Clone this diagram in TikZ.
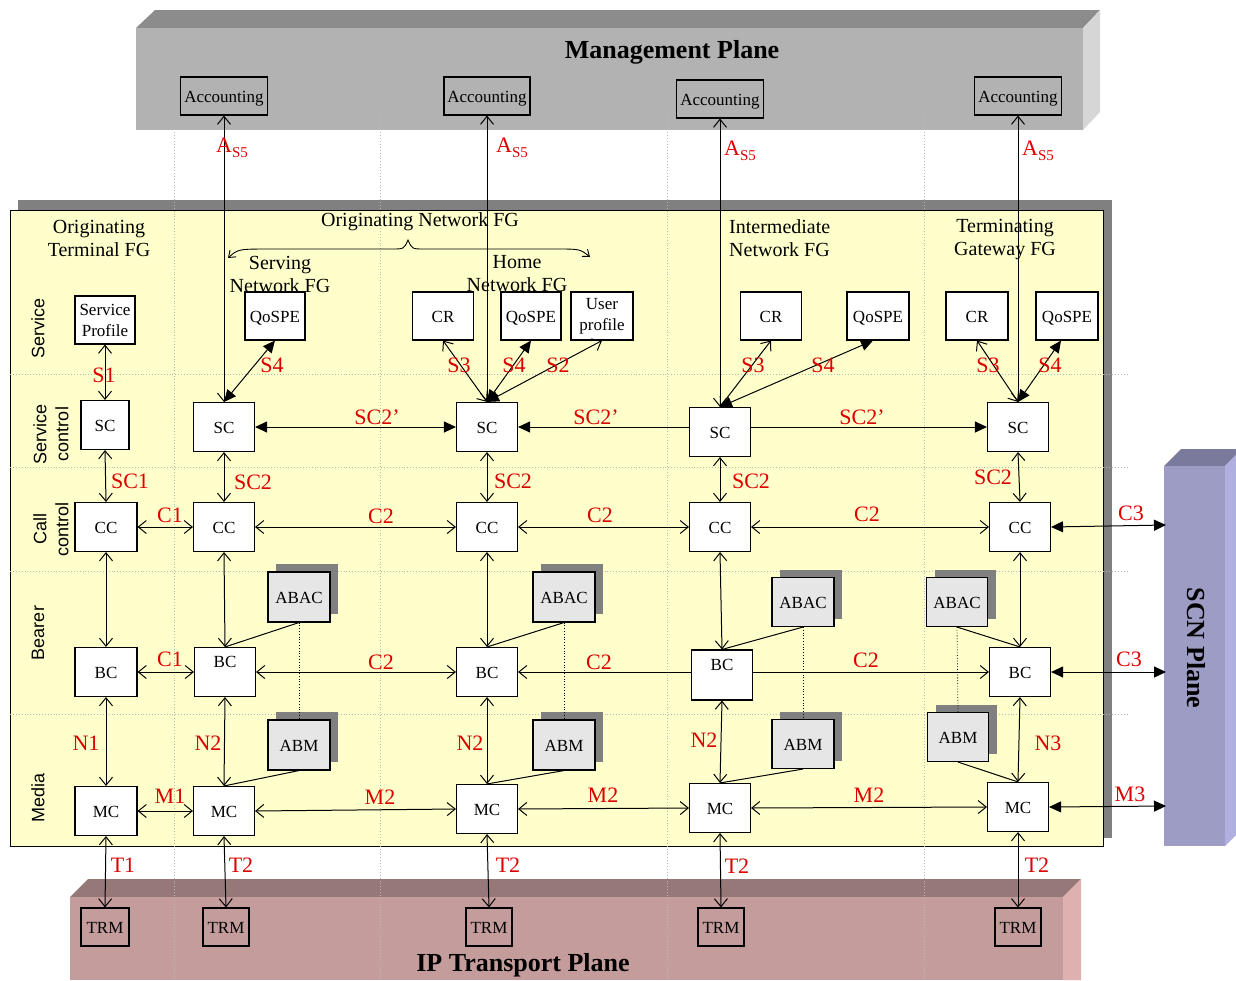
\documentclass[tikz,border=0pt]{standalone}
\usepackage{fontspec}
\setmainfont{Liberation Serif}
\newfontfamily\arialf{Liberation Sans}
\usetikzlibrary{arrows.meta,shadows}
\definecolor{lred}{RGB}{220,0,0}
\definecolor{mgtop}{HTML}{8C8C8C}
\definecolor{mgfront}{HTML}{B2B2B2}
\definecolor{mgside}{HTML}{D6D6D6}
\definecolor{iptop}{HTML}{967878}
\definecolor{ipfront}{HTML}{C49C9C}
\definecolor{ipside}{HTML}{DEB0B0}
\definecolor{scntop}{HTML}{7A7A9C}
\definecolor{scnfront}{HTML}{9C9CC4}
\definecolor{scnside}{HTML}{B0B0E0}
\definecolor{panel}{HTML}{FFFFCC}
\definecolor{shadowgray}{HTML}{808080}
\definecolor{boxgray}{HTML}{E6E6E6}
\definecolor{gridgray}{HTML}{B8B8B8}
\tikzset{
  ob/.tip={Straight Barb[length=8pt,width=13pt]},
  fb/.tip={Triangle[length=12pt,width=11pt]},
}
\newcommand\asfive{A\raisebox{-5pt}{\fontsize{15}{15}\selectfont S5}}
\begin{document}
\begin{tikzpicture}[x=1pt,y=-1pt,
  mbox/.style={draw, fill=white, line width=1.1pt, inner sep=0pt,
    font=\fontsize{17}{21}\selectfont, align=center},
  box/.style={mbox, text height=12pt, text depth=0pt},
  gbox/.style={box, fill=boxgray,
    general shadow={fill=shadowgray, shadow xshift=8pt, shadow yshift=8pt}},
  tbox/.style={draw, line width=1.1pt, inner sep=0pt,
    font=\fontsize{17}{20}\selectfont, text height=12pt, text depth=0pt},
  conn/.style={line width=1pt},
  grid/.style={draw=gridgray, dotted, line width=0.9pt},
  lab/.style={text=lred, font=\fontsize{22}{22}\selectfont, inner sep=0pt},
  head/.style={font=\fontsize{20}{23}\selectfont, align=center, inner sep=0pt},
  rowlab/.style={font=\arialf\fontsize{18}{22}\selectfont, rotate=90, align=center, inner sep=0pt},
  plane/.style={font=\bfseries\fontsize{26}{28}\selectfont, inner sep=0pt, text height=18pt, text depth=0pt},
]
\useasboundingbox (0,0) rectangle (1236,980);

% ---------- planes ----------
\fill[mgtop] (136,28) -- (155,10) -- (1100,10) -- (1083,28) -- cycle;
\fill[mgfront] (136,28) rectangle (1083,130);
\fill[mgside] (1083,28) -- (1100,10) -- (1100,112) -- (1083,130) -- cycle;
\node[plane] (mgmt) at (672,49) {Management Plane};

\fill[iptop] (70,897) -- (88,879) -- (1081,879) -- (1063,897) -- cycle;
\fill[ipfront] (70,897) rectangle (1063,980);
\fill[ipside] (1063,897) -- (1081,879) -- (1081,980) -- (1063,980) -- cycle;
\node[plane] (ipt) at (523,962) {IP Transport Plane};

\fill[scntop] (1164,466) -- (1181,449) -- (1242,449) -- (1225,466) -- cycle;
\fill[scnfront] (1164,466) rectangle (1225,846);
\fill[scnside] (1225,466) -- (1242,449) -- (1242,829) -- (1225,846) -- cycle;
\node[plane, rotate=-90] (scn) at (1196,648) {SCN Plane};

% ---------- main panel ----------
\fill[shadowgray] (18,200) rectangle (1112,838);
\filldraw[fill=panel, draw=black, line width=1pt] (10,210) rectangle (1103,846);

% ---------- dotted grid ----------
\foreach \gx in {174,380,667,924} \draw[grid] (\gx,112) -- (\gx,980);
\foreach \gy in {374,467,571,714} \draw[grid] (10,\gy) -- (1128,\gy);

% ---------- headers ----------
\node[head] (h1) at (99,238) {Originating\\Terminal FG};
\node[head] (h2) at (420,222) {Originating Network FG};
\node[head] (h3) at (280,274) {Serving\\Network FG};
\node[head] (h4) at (517,274) {Home\\Network FG};
\node[head, align=left, anchor=west] (h5) at (729,238) {Intermediate\\Network FG};
\node[head] (h6) at (1005,240) {Terminating\\Gateway FG};
\coordinate (braceL) at (228,258);
\coordinate (braceR) at (590,257);
\draw[line width=0.9pt, {Straight Barb[length=6pt,width=9pt]}-{Straight Barb[length=6pt,width=9pt]}]
  (braceL) .. controls (238,249) .. (272,249) -- (392,249)
  .. controls (404,249) .. (408,240) .. controls (412,249) .. (424,249)
  -- (556,249) .. controls (580,249) .. (braceR);

\node[rowlab] (r1) at (38,328) {Service};
\node[rowlab] (r2) at (51,434) {Service\\control};
\node[rowlab] (r3) at (51,529) {Call\\control};
\node[rowlab] (r4) at (38,633) {Bearer};
\node[rowlab] (r5) at (38,798) {Media};

% ---------- accounting ----------
\node[tbox, minimum width=87pt, minimum height=38pt] (acc1) at (224,96) {Accounting};
\node[tbox, minimum width=86pt, minimum height=38pt] (acc2) at (487,96) {Accounting};
\node[tbox, minimum width=87pt, minimum height=38pt] (acc3) at (720,99) {Accounting};
\node[tbox, minimum width=87pt, minimum height=38pt] (acc4) at (1018,96) {Accounting};

% ---------- service row ----------
\node[mbox, minimum width=60pt, minimum height=48pt] (sp) at (105,320) {Service\\Profile};
\node[box, minimum width=60pt, minimum height=48pt] (qos1) at (275,316) {QoSPE};
\node[box, minimum width=61pt, minimum height=48pt] (cr2) at (443,316) {CR};
\node[box, minimum width=60pt, minimum height=48pt] (qos2) at (531,316) {QoSPE};
\node[mbox, minimum width=62pt, minimum height=48pt] (up) at (602,316) {User\\profile};
\node[box, minimum width=61pt, minimum height=48pt] (cr3) at (771,316) {CR};
\node[box, minimum width=62pt, minimum height=48pt] (qos3) at (878,316) {QoSPE};
\node[box, minimum width=62pt, minimum height=48pt] (cr4) at (977,316) {CR};
\node[box, minimum width=62pt, minimum height=48pt] (qos4) at (1067,316) {QoSPE};

% ---------- service control ----------
\node[box, minimum width=48pt, minimum height=49pt] (sc1) at (105,425) {SC};
\node[box, minimum width=61pt, minimum height=49pt] (sc2) at (224,427) {SC};
\node[box, minimum width=61pt, minimum height=49pt] (sc3) at (487,427) {SC};
\node[box, minimum width=61pt, minimum height=49pt] (sc4) at (720,432) {SC};
\node[box, minimum width=61pt, minimum height=49pt] (sc5) at (1018,427) {SC};

% ---------- call control ----------
\node[box, minimum width=62pt, minimum height=49pt] (cc1) at (106,527) {CC};
\node[box, minimum width=61pt, minimum height=49pt] (cc2) at (224,527) {CC};
\node[box, minimum width=61pt, minimum height=49pt] (cc3) at (487,527) {CC};
\node[box, minimum width=61pt, minimum height=49pt] (cc4) at (720,527) {CC};
\node[box, minimum width=61pt, minimum height=49pt] (cc5) at (1020,527) {CC};

% ---------- bearer ----------
\node[box, minimum width=62pt, minimum height=49pt] (bc1) at (106,672) {BC};
\node[box, minimum width=61pt, minimum height=49pt, text height=12pt, text depth=22pt] (bc2) at (225,672) {BC};
\node[box, minimum width=61pt, minimum height=49pt] (bc3) at (487,672) {BC};
\node[box, minimum width=61pt, minimum height=50pt, text height=12pt, text depth=22pt] (bc4) at (722,675) {BC};
\node[box, minimum width=61pt, minimum height=49pt] (bc5) at (1020,672) {BC};

\node[gbox, minimum width=62pt, minimum height=50pt] (abac1) at (299,597) {ABAC};
\node[gbox, minimum width=62pt, minimum height=50pt] (abac2) at (564,597) {ABAC};
\node[gbox, minimum width=62pt, minimum height=49pt] (abac3) at (803,602) {ABAC};
\node[gbox, minimum width=61pt, minimum height=49pt] (abac4) at (957,602) {ABAC};

% ---------- media ----------
\node[gbox, minimum width=62pt, minimum height=50pt] (abm1) at (299,745) {ABM};
\node[gbox, minimum width=62pt, minimum height=50pt] (abm2) at (564,745) {ABM};
\node[gbox, minimum width=62pt, minimum height=49pt] (abm3) at (803,744) {ABM};
\node[gbox, minimum width=61pt, minimum height=49pt] (abm4) at (958,737) {ABM};

\node[box, minimum width=62pt, minimum height=49pt] (mc1) at (106,811) {MC};
\node[box, minimum width=61pt, minimum height=49pt] (mc2) at (224,811) {MC};
\node[box, minimum width=61pt, minimum height=49pt] (mc3) at (487,809) {MC};
\node[box, minimum width=61pt, minimum height=49pt] (mc4) at (720,808) {MC};
\node[box, minimum width=61pt, minimum height=49pt] (mc5) at (1018,807) {MC};

% ---------- transport ----------
\node[tbox, minimum width=48pt, minimum height=38pt] (trm1) at (105,927) {TRM};
\node[tbox, minimum width=46pt, minimum height=38pt] (trm2) at (226,927) {TRM};
\node[tbox, minimum width=46pt, minimum height=38pt] (trm3) at (489,927) {TRM};
\node[tbox, minimum width=46pt, minimum height=38pt] (trm4) at (721,927) {TRM};
\node[tbox, minimum width=46pt, minimum height=38pt] (trm5) at (1018,927) {TRM};

\coordinate (scnC) at (1166,525);
\coordinate (scnB) at (1166,672);
\coordinate (scnM) at (1166,806);

% ---------- connectors ----------
\draw[conn, ob-ob] (acc1.south) -- (sc2.north);
\draw[conn, ob-ob] (acc2.south) -- (sc3.north);
\draw[conn, ob-ob] (acc3.south) -- (sc4.north);
\draw[conn, ob-ob] (acc4.south) -- (sc5.north);

\draw[conn, ob-ob] (sp.south) -- (sc1.north);
\draw[conn, fb-fb] (qos1.south) -- (sc2.north);
\draw[conn, ob-ob] (cr2.south) -- (sc3.north);
\draw[conn, fb-fb] (qos2.south) -- (sc3.north);
\draw[conn, ob-fb] (up.south) -- (sc3.north);
\draw[conn, ob-ob] (cr3.south) -- (sc4.north);
\draw[conn, fb-fb] ([xshift=-5pt]qos3.south) -- (sc4.north);
\draw[conn, ob-ob] (cr4.south) -- (sc5.north);
\draw[conn, fb-fb] ([xshift=-6pt]qos4.south) -- (sc5.north);

\draw[conn, fb-fb] (sc2.east) -- (sc3.west);
\draw[conn, -fb] (sc3.east -| sc4.west) -- (sc3.east);
\draw[conn, -fb] (sc4.east |- sc5.west) -- (sc5.west);

\draw[conn, ob-ob] (sc1.south) -- (cc1.north);
\draw[conn, ob-ob] (sc2.south) -- (cc2.north);
\draw[conn, ob-ob] (sc3.south) -- (cc3.north);
\draw[conn, ob-ob] (sc4.south) -- (cc4.north);
\draw[conn, ob-ob] (sc5.south) -- (cc5.north);

\draw[conn, ob-ob] (cc1.east) -- (cc2.west);
\draw[conn, ob-ob] (cc2.east) -- (cc3.west);
\draw[conn, ob-ob] (cc3.east) -- (cc4.west);
\draw[conn, ob-ob] (cc4.east) -- (cc5.west);
\draw[conn, fb-fb] (cc5.east) -- (scnC);

\draw[conn, ob-ob] (cc1.south) -- (bc1.north);
\draw[conn, ob-ob] (cc2.south) -- (bc2.north);
\draw[conn, ob-ob] (cc3.south) -- (bc3.north);
\draw[conn, ob-ob] (cc4.south) -- (bc4.north);
\draw[conn, ob-ob] (cc5.south) -- (bc5.north);

\draw[conn] (abac1.south) -- (bc2.north);
\draw[conn] (abac2.south) -- (bc3.north);
\draw[conn] (abac3.south) -- (bc4.north);
\draw[conn] (abac4.south) -- (bc5.north);
\draw[line width=0.8pt, dotted] (abac1.south) -- (abm1.north);
\draw[line width=0.8pt, dotted] (abac2.south) -- (abm2.north);
\draw[line width=0.8pt, dotted] (abac3.south) -- (abm3.north);
\draw[line width=0.8pt, dotted] (abac4.south) -- (abm4.north);

\draw[conn, ob-ob] (bc1.east) -- (bc2.west);
\draw[conn, ob-ob] (bc2.east) -- (bc3.west);
\draw[conn, -ob] (bc3.east -| bc4.west) -- (bc3.east);
\draw[conn, -ob] (bc4.east |- bc5.west) -- (bc5.west);
\draw[conn, fb-fb] (bc5.east) -- (scnB);

\draw[conn, ob-ob] (bc1.south) -- (mc1.north);
\draw[conn, ob-ob] (bc2.south) -- (mc2.north);
\draw[conn, ob-ob] (bc3.south) -- (mc3.north);
\draw[conn, ob-ob] (bc4.south) -- (mc4.north);
\draw[conn, ob-ob] (bc5.south) -- (mc5.north);

\draw[conn] (abm1.south) -- (mc2.north);
\draw[conn] (abm2.south) -- (mc3.north);
\draw[conn] (abm3.south) -- (mc4.north);
\draw[conn] (abm4.south) -- (mc5.north);

\draw[conn, ob-ob] (mc1.east) -- (mc2.west);
\draw[conn, ob-ob] (mc2.east) -- (mc3.west);
\draw[conn, ob-ob] (mc3.east) -- (mc4.west);
\draw[conn, ob-ob] (mc4.east) -- (mc5.west);
\draw[conn, fb-fb] (mc5.east) -- (scnM);

\draw[conn, ob-ob] (mc1.south) -- (trm1.north);
\draw[conn, ob-ob] (mc2.south) -- (trm2.north);
\draw[conn, ob-ob] (mc3.south) -- (trm3.north);
\draw[conn, ob-ob] (mc4.south) -- (trm4.north);
\draw[conn, ob-ob] (mc5.south) -- (trm5.north);

% ---------- labels ----------
\node[lab, anchor=west] (la1) at (216,148) {\asfive};
\node[lab, anchor=west] (la2) at (496,148) {\asfive};
\node[lab, anchor=west] (la3) at (724,151) {\asfive};
\node[lab, anchor=west] (la4) at (1022,151) {\asfive};

\node[lab] (ls1) at (104,375) {S1};
\node[lab] (ls4a) at (272,365) {S4};
\node[lab] (ls3a) at (459,365) {S3};
\node[lab] (ls4b) at (514,365) {S4};
\node[lab] (ls2) at (558,365) {S2};
\node[lab] (ls3b) at (753,365) {S3};
\node[lab] (ls4c) at (823,365) {S4};
\node[lab] (ls3c) at (988,365) {S3};
\node[lab] (ls4d) at (1050,365) {S4};

\node[lab] (lsp1) at (377,417) {SC2’};
\node[lab] (lsp2) at (596,417) {SC2’};
\node[lab] (lsp3) at (862,417) {SC2’};

\node[lab] (lsc1) at (130,481) {SC1};
\node[lab] (lsc2) at (253,482) {SC2};
\node[lab] (lsc3) at (513,481) {SC2};
\node[lab] (lsc4) at (751,481) {SC2};
\node[lab] (lsc5) at (993,477) {SC2};

\node[lab] (lc1) at (170,515) {C1};
\node[lab] (lc2) at (381,516) {C2};
\node[lab] (lc3) at (600,515) {C2};
\node[lab] (lc4) at (867,514) {C2};
\node[lab] (lc5) at (1131,513) {C3};

\node[lab] (lb1) at (170,659) {C1};
\node[lab] (lb2) at (381,662) {C2};
\node[lab] (lb3) at (599,662) {C2};
\node[lab] (lb4) at (866,660) {C2};
\node[lab] (lb5) at (1129,659) {C3};

\node[lab] (ln1) at (86,743) {N1};
\node[lab] (ln2) at (208,743) {N2};
\node[lab] (ln3) at (470,743) {N2};
\node[lab] (ln4) at (704,740) {N2};
\node[lab] (ln5) at (1048,743) {N3};

\node[lab] (lm1) at (170,796) {M1};
\node[lab] (lm2) at (380,797) {M2};
\node[lab] (lm3) at (603,795) {M2};
\node[lab] (lm4) at (869,795) {M2};
\node[lab] (lm5) at (1130,794) {M3};

\node[lab] (lt1) at (123,865) {T1};
\node[lab] (lt2) at (241,865) {T2};
\node[lab] (lt3) at (508,865) {T2};
\node[lab] (lt4) at (737,866) {T2};
\node[lab] (lt5) at (1037,865) {T2};
\end{tikzpicture}
\end{document}
